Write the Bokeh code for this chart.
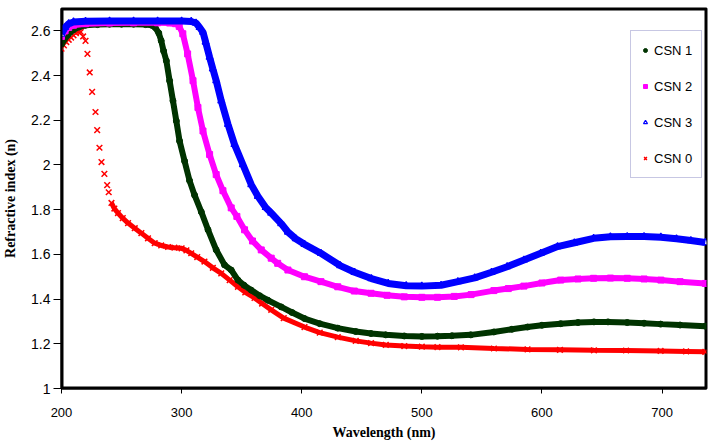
from bokeh.plotting import figure
from bokeh.models import Legend, LegendItem, FixedTicker, Range1d
from bokeh.embed import file_html
from bokeh.resources import INLINE

# ---------------- data ----------------
wl_csn1 = [200, 205, 210, 215, 220, 230, 240, 250, 260, 270, 275, 278, 281, 283, 285,
           287.3, 290, 292.8, 295.6, 298.3, 302.5, 306.6, 310.8, 316.4, 322, 328.8, 335.7,
           341.3, 346.9, 352, 358, 365, 371.8, 382.9, 392, 402.3, 415, 430, 445, 457.7,
           470, 485.4, 500, 513, 525, 540.8, 560, 575, 588, 600, 615.6, 630, 643.3, 655,
           671, 685, 698.8, 715, 736]
n_csn1 = [2.54, 2.58, 2.605, 2.618, 2.625, 2.628, 2.63, 2.63, 2.63, 2.628, 2.625, 2.615,
          2.59, 2.556, 2.51, 2.466, 2.377, 2.287, 2.197, 2.107, 2.017, 1.93, 1.865, 1.79,
          1.71, 1.62, 1.553, 1.53, 1.485, 1.462, 1.44, 1.415, 1.395, 1.365, 1.34, 1.313,
          1.29, 1.27, 1.255, 1.246, 1.24, 1.235, 1.233, 1.234, 1.236, 1.24, 1.253, 1.265,
          1.275, 1.283, 1.29, 1.295, 1.298, 1.298, 1.295, 1.292, 1.288, 1.284, 1.279]

wl_csn2 = [200, 203, 206, 210, 220, 240, 260, 280, 290, 295, 298, 301, 305, 309.5, 313.6,
           317.8, 323.3, 328.8, 334.4, 341.3, 346, 352.4, 359, 366.3, 374.6, 380, 388.5,
           402.3, 416, 430, 443.8, 457.7, 471, 485.4, 500, 513, 527, 541, 560, 572, 585,
           600, 615.6, 630, 643, 657, 671, 685, 699, 715, 736]
n_csn2 = [2.575, 2.6, 2.615, 2.625, 2.632, 2.635, 2.636, 2.636, 2.635, 2.632, 2.62, 2.587,
          2.497, 2.377, 2.257, 2.152, 2.047, 1.957, 1.885, 1.808, 1.77, 1.71, 1.66, 1.62,
          1.583, 1.56, 1.53, 1.5, 1.478, 1.455, 1.436, 1.426, 1.417, 1.41, 1.408, 1.408,
          1.412, 1.42, 1.438, 1.447, 1.458, 1.472, 1.485, 1.49, 1.493, 1.494, 1.493, 1.49,
          1.485, 1.478, 1.47]

wl_csn3 = [200, 203, 206, 210, 220, 240, 260, 280, 300, 308, 312, 315, 317.8, 320, 323.3,
           326, 328.8, 333, 338.6, 344, 351, 358, 363.5, 370, 374.6, 382.9, 388.5, 395,
           402.3, 416, 432, 444, 458, 472, 487, 500, 516, 530, 544, 558, 571, 585, 599,
           613, 627, 643, 657, 671, 685, 699, 712, 724, 736]
n_csn3 = [2.585, 2.615, 2.632, 2.64, 2.643, 2.644, 2.644, 2.644, 2.644, 2.642, 2.635,
          2.615, 2.594, 2.55, 2.482, 2.43, 2.377, 2.287, 2.182, 2.092, 2.002, 1.912, 1.86,
          1.81, 1.785, 1.738, 1.7, 1.67, 1.645, 1.605, 1.55, 1.52, 1.492, 1.47, 1.46,
          1.458, 1.462, 1.478, 1.495, 1.52, 1.545, 1.575, 1.605, 1.635, 1.652, 1.672,
          1.679, 1.68, 1.68, 1.677, 1.67, 1.662, 1.653]

wl_csn0 = [200, 202, 204, 206, 208, 210, 212, 214, 216, 218, 220, 221.6, 223.5, 225.5,
           228.3, 229.7, 231.6, 233.3, 235.7, 238, 239.3, 241.6, 244, 247, 251, 255.4, 261,
           266.5, 272, 277.6, 283, 288.7, 294, 300, 304, 308, 313, 319, 326, 333, 340,
           346.9, 353, 360.7, 367, 374.6, 385, 402.3, 415, 430, 445, 457.7, 470, 485.4,
           500, 513, 532.5, 560, 588, 615, 643.3, 670, 698.8, 720, 736]
n_csn0 = [2.52, 2.535, 2.55, 2.56, 2.57, 2.58, 2.59, 2.595, 2.595, 2.575, 2.555, 2.497,
          2.414, 2.327, 2.237, 2.156, 2.077, 2.013, 1.96, 1.91, 1.878, 1.83, 1.805, 1.785,
          1.762, 1.74, 1.717, 1.695, 1.672, 1.65, 1.64, 1.633, 1.63, 1.627, 1.618, 1.605,
          1.588, 1.568, 1.54, 1.515, 1.485, 1.455, 1.43, 1.405, 1.38, 1.352, 1.315, 1.275,
          1.25, 1.23, 1.213, 1.203, 1.195, 1.19, 1.187, 1.185, 1.184, 1.179, 1.175, 1.173,
          1.171, 1.17, 1.168, 1.166, 1.164]
csn0_dense_from = 21   # index from which the CSN 0 markers merge into a band

x_ticks = [200, 300, 400, 500, 600, 700]
y_ticks = [1, 1.2, 1.4, 1.6, 1.8, 2, 2.2, 2.4, 2.6]
y_tick_labels = ["1", "1.2", "1.4", "1.6", "1.8", "2", "2.2", "2.4", "2.6"]

# ---------------- figure ----------------
x_range = Range1d(200, 737)
y_range = Range1d(1, 2.7)
p = figure(width=719, height=444, x_range=x_range, y_range=y_range,
           output_backend="svg", toolbar_location=None,
           min_border_left=60, min_border_right=13, min_border_top=8, min_border_bottom=56)
p.grid.visible = False
p.background_fill_color = "white"
p.border_fill_color = "white"
p.outline_line_color = "black"
p.outline_line_width = 2

for ax in (p.xaxis[0], p.yaxis[0]):
    ax.axis_line_color = "black"
    ax.axis_line_width = 2
    ax.major_tick_line_color = "black"
    ax.major_tick_line_width = 1
    ax.major_tick_in = 0
    ax.minor_tick_line_color = None
    ax.major_label_text_color = "black"
    ax.major_label_text_font = "Liberation Sans"
    ax.axis_label_text_font = "Liberation Serif"
    ax.axis_label_text_font_style = "bold"
    ax.axis_label_text_font_size = "14px"
    ax.axis_label_text_color = "black"

p.xaxis.ticker = FixedTicker(ticks=x_ticks)
p.xaxis.major_tick_out = 5
p.xaxis.major_label_text_font_size = "13px"
p.xaxis.major_label_standoff = 14
p.xaxis.axis_label = "Wavelength (nm)"
p.xaxis.axis_label_standoff = 5

p.yaxis.ticker = FixedTicker(ticks=y_ticks)
p.yaxis.major_label_overrides = dict(zip(y_ticks, y_tick_labels))
p.yaxis.major_tick_out = 8
p.yaxis.major_label_text_font_size = "14px"
p.yaxis.major_label_standoff = 3
p.yaxis.axis_label = "Refractive index (n)"
p.yaxis.axis_label_standoff = 10

# plot-area frame (unfilled box spanning the axis ranges)
p.quad(left=[x_range.start], right=[x_range.end], bottom=[y_range.start], top=[y_range.end],
       fill_color=None, line_color="black", line_width=4)

# ---------------- series ----------------
red = "#FF0000"
green = "#003300"
magenta = "#FF00FF"
blue = "#0000FF"

p.line(wl_csn0[csn0_dense_from:], n_csn0[csn0_dense_from:], line_color=red, line_width=5)
r0 = p.scatter(wl_csn0, n_csn0, marker="x", size=8, line_color=red, line_width=1.5)

r1 = p.scatter(wl_csn1, n_csn1, marker="circle", size=6, fill_color=green, line_color=green)
p.line(wl_csn1, n_csn1, line_color=green, line_width=6)

r2 = p.scatter(wl_csn2, n_csn2, marker="square", size=6, fill_color=magenta, line_color=magenta)
p.line(wl_csn2, n_csn2, line_color=magenta, line_width=6)

r3 = p.scatter(wl_csn3, n_csn3, marker="triangle", size=7, fill_color="white",
               line_color=blue, line_width=1.2)
p.line(wl_csn3, n_csn3, line_color=blue, line_width=7)

legend = Legend(items=[LegendItem(label="CSN 1", renderers=[r1]),
                       LegendItem(label="CSN 2", renderers=[r2]),
                       LegendItem(label="CSN 3", renderers=[r3]),
                       LegendItem(label="CSN 0", renderers=[r0])],
                location=(569, 210), margin=0, padding=9, spacing=16,
                label_height=20, glyph_height=20, glyph_width=10, label_standoff=4,
                label_text_font="Liberation Sans", label_text_font_size="13px",
                label_text_color="black",
                border_line_color="#9090c8", border_line_width=1,
                background_fill_color="white", background_fill_alpha=1)
p.add_layout(legend)

open("out.html", "w").write(file_html(p, INLINE))
